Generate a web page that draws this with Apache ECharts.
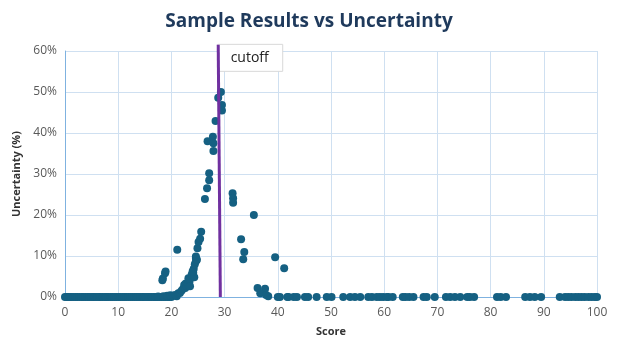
<!DOCTYPE html>
<html>
<head>
<meta charset="utf-8">
<script src="https://cdn.jsdelivr.net/npm/echarts@6/dist/echarts.min.js"></script>
<style>
  html, body { margin: 0; padding: 0; background: #fff; }
  #chart { width: 618px; height: 353px; }
</style>
</head>
<body>
<div id="chart"></div>
<script>
// data
const xTicks = [0, 10, 20, 30, 40, 50, 60, 70, 80, 90, 100];
const yTicks = [0, 10, 20, 30, 40, 50, 60];
// the cutoff line leans a little: bottom and top ends
const cutoffScores = [29.2, 28.8];
const cutoffRange = [0, 61.5];
const cutoffLabel = 'cutoff';

// scores with zero uncertainty
const zeroScores = [
  0, 0.3, 0.6, 0.9, 1.2, 1.6, 2.0, 2.3, 2.7, 3.1, 3.4, 3.8, 4.2, 4.5, 4.9, 5.3, 5.6, 6.0,
  6.4, 6.7, 7.1, 7.5, 7.8, 8.2, 8.6, 8.9, 9.3, 9.7, 10.1, 10.4, 10.8, 11.2, 11.5, 11.9,
  12.3, 12.6, 13.0, 13.4, 13.7, 14.1, 14.5, 14.8, 15.2, 15.6, 15.9, 16.3, 16.7, 17.0,
  17.4, 17.8, 18.1, 18.5, 18.9, 19.3, 19.6, 20.0,
  40.0, 40.4, 41.8, 42.0, 43.0, 43.6, 45.1, 45.7, 47.3, 49.2, 50.1, 52.3, 53.6, 54.5,
  55.5, 57.0, 57.7, 58.6, 59.2, 59.8, 60.5, 60.8, 61.6, 63.5, 64.0, 64.7, 65.5, 67.4,
  68.0, 69.5, 71.6, 72.4, 73.3, 74.3, 75.6, 76.1, 76.9, 81.2, 81.9, 82.9, 86.5, 87.4,
  88.3, 89.5, 93.0, 94.0, 94.6, 95.2, 95.9, 96.5, 97.1, 97.7, 98.4, 99.0, 99.6, 100
];

// scores with non-zero uncertainty, and their uncertainty (%)
const riskScores = [
  17.5, 18.5, 19.2, 19.8, 20.3, 20.7, 21.0, 21.3, 21.6, 21.9, 22.2, 22.4, 22.6, 22.7,
  22.9, 23.1, 23.2, 23.4, 23.5, 23.2, 23.8, 24.1, 24.2, 24.3, 24.0, 24.4, 24.6, 24.6,
  24.8, 24.6, 24.9, 25.1, 25.4, 25.6, 26.3, 26.7, 27.1, 27.1, 26.8, 27.9, 27.9, 27.8,
  28.3, 28.8, 29.3, 29.5, 29.5,
  18.3, 18.4, 18.8, 18.9, 21.1,
  31.5, 31.6, 31.6, 35.5, 33.1, 33.7, 33.5, 39.5, 41.2, 36.2, 37.6, 36.7, 37.8, 38.2
];
const riskValues = [
  0.1, 0.2, 0.3, 0.4, 0.3, 0.5, 0.2, 0.9, 1.0, 1.5, 2.0, 2.9, 2.2, 3.3,
  2.7, 3.0, 3.4, 3.8, 2.6, 4.6, 5.4, 5.9, 6.9, 4.8, 6.3, 8.0, 8.7, 9.5,
  9.1, 9.9, 11.9, 13.4, 14.2, 15.9, 23.9, 26.5, 28.5, 30.2, 38.0, 35.6, 37.5, 39.1,
  42.9, 48.6, 50.0, 46.8, 45.5,
  4.1, 4.5, 5.8, 6.2, 11.5,
  25.3, 24.1, 23.0, 20.0, 14.1, 11.0, 9.2, 9.7, 7.0, 2.2, 2.0, 0.9, 0.5, 0.2
];

const points = zeroScores.map(s => [s, 0])
  .concat(riskScores.map((s, i) => [s, riskValues[i]]));
const cutoffPoints = cutoffRange.map((v, i) => [cutoffScores[i], v]);

const chart = echarts.init(document.getElementById('chart'));
const font = "'Open Sans', 'Noto Sans', sans-serif";

chart.setOption({
  animation: false,
  title: {
    text: 'Sample Results vs Uncertainty',
    left: 'center',
    top: 7,
    textStyle: { fontFamily: font, fontWeight: 'bold', fontSize: 19, color: '#1f3a5c' }
  },
  grid: { left: 65, right: 21, top: 51, bottom: 56 },
  xAxis: {
    type: 'value',
    min: xTicks[0],
    max: xTicks[xTicks.length - 1],
    interval: 10,
    name: 'Score',
    nameLocation: 'middle',
    nameGap: 29,
    nameTextStyle: { fontFamily: font, fontWeight: 'bold', fontSize: 11, color: '#333' },
    axisLine: { show: true, lineStyle: { color: '#7fb2e0', width: 1 } },
    axisTick: { show: false },
    axisLabel: { fontFamily: font, fontSize: 12, color: '#595959', margin: 10 },
    splitLine: { show: true, lineStyle: { color: '#cfe0f1', width: 1 } }
  },
  yAxis: {
    type: 'value',
    min: yTicks[0],
    max: yTicks[yTicks.length - 1],
    interval: 10,
    name: 'Uncertainty (%)',
    nameLocation: 'middle',
    nameGap: 40,
    nameTextStyle: { fontFamily: font, fontWeight: 'bold', fontSize: 11, color: '#333' },
    axisLine: { show: true, lineStyle: { color: '#7fb2e0', width: 1 } },
    axisTick: { show: false },
    axisLabel: { fontFamily: font, fontSize: 12, color: '#595959', formatter: '{value}%', margin: 8 },
    splitLine: { show: true, lineStyle: { color: '#cfe0f1', width: 1 } }
  },
  series: [{
    type: 'scatter',
    data: points,
    symbolSize: 8,
    itemStyle: { color: '#156082', opacity: 1 },
    clip: false,
    z: 2
  }, {
    // cutoff line, drawn over the markers
    type: 'line',
    data: cutoffPoints,
    showSymbol: false,
    symbol: 'none',
    clip: false,
    silent: true,
    lineStyle: { color: '#7030a0', width: 3 },
    z: 3
  }]
});

// label box next to the top of the cutoff line
const lineTop = chart.convertToPixel({ seriesIndex: 0 }, cutoffPoints[1]);
chart.setOption({
  graphic: [{
    type: 'group',
    left: lineTop[0] - 1,
    top: lineTop[1] - 1,
    children: [{
      type: 'rect',
      shape: { x: 0, y: 0, width: 65, height: 27 },
      style: { fill: '#fff', stroke: '#d9d9d9', lineWidth: 1 }
    }, {
      type: 'text',
      x: 32, y: 14,
      style: { text: cutoffLabel, fontFamily: font, fontSize: 14, fill: '#222', align: 'center', verticalAlign: 'middle' }
    }]
  }]
});
</script>
</body>
</html>
